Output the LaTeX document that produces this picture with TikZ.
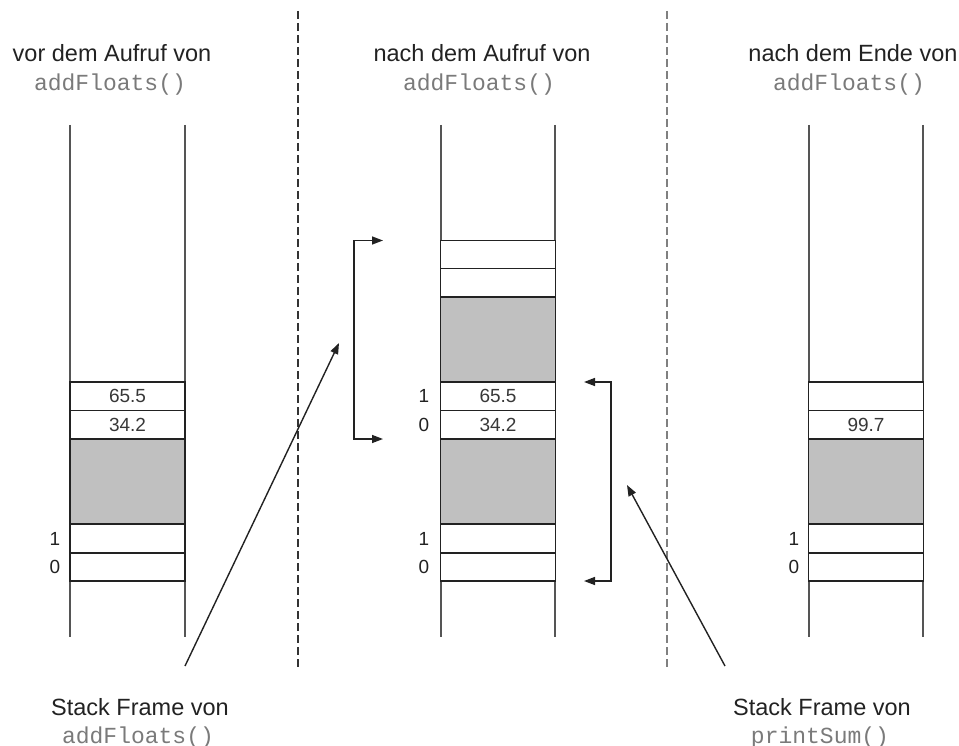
\documentclass[tikz,border=0pt]{standalone}
\usepackage{fontspec}
\setmainfont{Liberation Sans}
\setmonofont{Liberation Mono}
\usetikzlibrary{arrows.meta}
\definecolor{ink}{HTML}{222222}
\definecolor{postgray}{HTML}{555555}
\definecolor{shade}{HTML}{C0C0C0}
\definecolor{codegray}{HTML}{7A7A7A}
\definecolor{dashdark}{HTML}{333333}
\definecolor{dashlight}{HTML}{808080}

\begin{document}
\begin{tikzpicture}[x=1pt,y=-1pt,
  every node/.style={inner sep=0pt, outer sep=0pt},
  heading/.style={anchor=base, text=ink, font=\fontsize{23.5}{28}\selectfont},
  code/.style={anchor=base, text=codegray, font=\ttfamily\fontsize{23}{28}\selectfont},
  slot/.style={draw=ink, line width=1.5pt, fill=white, minimum width=115pt,
               text=ink!90, font=\fontsize{19}{22}\selectfont},
  busy/.style={slot, fill=shade},
  idx/.style={text=ink, font=\fontsize{19}{22}\selectfont},
  stackpost/.style={draw=postgray, line width=1.9pt},
  divider/.style={line width=2pt, dash pattern=on 8pt off 4pt},
  pointer/.style={draw=ink, line width=1.4pt, -{Triangle[length=11pt,width=8pt]}},
  twoway/.style={draw=ink, line width=1.4pt,
                 {Triangle[length=11pt,width=8pt]}-{Triangle[length=11pt,width=8pt]}},
  ]
\useasboundingbox (0,0) rectangle (959,746);

% phase dividers
\draw[divider, draw=dashdark] (298,11) -- (298,667);
\draw[divider, draw=dashlight, line width=2.6pt] (667,11) -- (667,667);

% headings
\node[heading] (hA) at (112,62) {vor dem Aufruf von};
\node[code]    (cA) at (110,91) {addFloats()};
\node[heading] (hB) at (482,62) {nach dem Aufruf von};
\node[code]    (cB) at (479,91) {addFloats()};
\node[heading] (hC) at (853,62) {nach dem Ende von};
\node[code]    (cC) at (849,91) {addFloats()};

% stack walls
\draw[stackpost] (70,125) -- (70,637);
\draw[stackpost] (185,125) -- (185,637);
\draw[stackpost] (441,125) -- (441,637);
\draw[stackpost] (555,125) -- (555,637);
\draw[stackpost] (809,125) -- (809,637);
\draw[stackpost] (923,125) -- (923,637);

% stack before the call
\node[slot, minimum height=28.5pt] (a65) at (127.5,396.25) {65.5};
\node[slot, minimum height=28.5pt] (a34) at (127.5,424.75) {34.2};
\node[busy, minimum height=85pt]   (aMid) at (127.5,481.5) {};
\node[slot, minimum height=29pt]   (a1) at (127.5,538.5) {};
\node[slot, minimum height=28pt]   (a0) at (127.5,567) {};
\node[idx] (a1i) at (55,538.5) {1};
\node[idx] (a0i) at (55,567) {0};

% stack after the call
\node[slot, minimum height=28pt]   (bTop) at (498,254.5) {};
\node[slot, minimum height=28.5pt] (bNext) at (498,282.75) {};
\node[busy, minimum height=85pt]   (bUp) at (498,339.5) {};
\node[slot, minimum height=28.5pt] (b65) at (498,396.25) {65.5};
\node[slot, minimum height=28.5pt] (b34) at (498,424.75) {34.2};
\node[busy, minimum height=85pt]   (bMid) at (498,481.5) {};
\node[slot, minimum height=29pt]   (b1) at (498,538.5) {};
\node[slot, minimum height=28pt]   (b0) at (498,567) {};
\node[idx] (b65i) at (424,396.25) {1};
\node[idx] (b34i) at (424,424.75) {0};
\node[idx] (b1i) at (424,538.5) {1};
\node[idx] (b0i) at (424,567) {0};

% stack after return
\node[slot, minimum height=28.5pt] (c2) at (866,396.25) {};
\node[slot, minimum height=28.5pt] (cSum) at (866,424.75) {99.7};
\node[busy, minimum height=85pt]   (cMid) at (866,481.5) {};
\node[slot, minimum height=29pt]   (c1) at (866,538.5) {};
\node[slot, minimum height=28pt]   (c0) at (866,567) {};
\node[idx] (c1i) at (794,538.5) {1};
\node[idx] (c0i) at (794,567) {0};

% frame brackets
\coordinate (fTop) at (383,240.5);
\coordinate (fBot) at (383,439);
\draw[twoway] (fTop) -- ++(-29,0) |- (fBot);
\coordinate (pTop) at (584,382);
\coordinate (pBot) at (584,581);
\draw[twoway] (pTop) -- ++(27,0) |- (pBot);

% captions and their pointers
\node[heading] (sA) at (140,715) {Stack Frame von};
\node[code]    (sAc) at (138,743) {addFloats()};
\node[heading] (sB) at (822,715) {Stack Frame von};
\node[code]    (sBc) at (820,743) {printSum()};

\coordinate (sAfoot) at (185,666);
\coordinate (sAtip) at (339,343);
\draw[pointer] (sAfoot) -- (sAtip);
\coordinate (sBfoot) at (725,666);
\coordinate (sBtip) at (627,485);
\draw[pointer] (sBfoot) -- (sBtip);
\end{tikzpicture}
\end{document}
